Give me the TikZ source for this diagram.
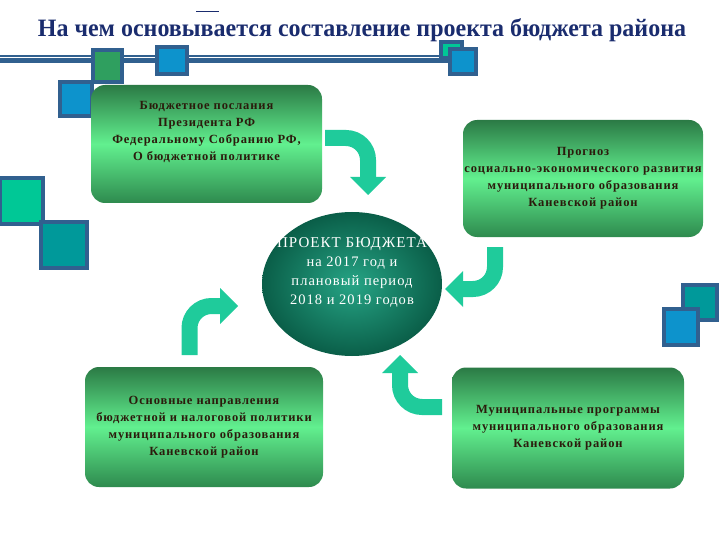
\documentclass[tikz,border=0pt]{standalone}
\usepackage{fontspec}
\setmainfont{Liberation Serif}
\newfontfamily\boxfont[LetterSpace=7]{Liberation Serif}
\newfontfamily\titlefont[FakeStretch=0.96]{Liberation Serif}
\usetikzlibrary{positioning,arrows.meta,shapes.geometric}

\definecolor{navy}{HTML}{1A2C6E}
\definecolor{steel}{HTML}{31608F}
\definecolor{sqgreen}{HTML}{2F9F5F}
\definecolor{sqblue}{HTML}{0D93CC}
\definecolor{sqteal}{HTML}{00C896}
\definecolor{sqdteal}{HTML}{00999A}
\definecolor{arrowteal}{HTML}{1FCB9B}
\definecolor{boxtop}{HTML}{2B7A45}
\definecolor{boxmid}{HTML}{62F08F}
\definecolor{boxbot}{HTML}{2E8A4E}
\definecolor{txtbrown}{HTML}{2B1B0C}
\definecolor{ringdark}{HTML}{0A5E48}
\definecolor{ringlight}{HTML}{26A485}

\begin{document}
\begin{tikzpicture}[x=1pt,y=-1pt,
        sq/.style={
            draw=steel,
            line width=3.5pt,
            fill=#1
        },
        box/.style={
            rounded corners=14pt,
            top color=boxtop,
            bottom color=boxbot,
            middle color=boxmid,
            inner sep=0pt
        },
        txt/.style={
            font=\boxfont\bfseries\fontsize{12.5}{17}\selectfont,
            text=txtbrown,
            align=center
        },
        turn/.style={
            draw=arrowteal,
            line width=16pt,
            rounded corners=22pt,
            -{Triangle[width=36pt,length=18pt,line width=0pt 0 0]}
        }
    ]
    \useasboundingbox (0,0) rectangle (720,540);

    \draw[navy,line width=1pt] (196,12) -- (219,12);

    \draw[steel,line width=8pt] (0,59) -- (462,59);
    \draw[white,line width=1pt] (0,57.5) -- (460,57.5);
    \draw[sq=sqgreen] (93,50) rectangle (122,82);
    \draw[sq=sqblue] (157,47) rectangle (187,74);
    \draw[sq=sqteal] (441,42) rectangle (462,58);
    \draw[sq=sqblue] (450,49) rectangle (476,74);
    \draw[sq=sqblue] (60,82) rectangle (92,116);
    \draw[sq=sqteal] (0,178) rectangle (43,224);
    \draw[sq=sqdteal] (41,222) rectangle (87,268);
    \draw[sq=sqdteal] (683,285) rectangle (717,320);
    \draw[sq=sqblue] (664,309) rectangle (698,345);

    \node[font=\titlefont\bfseries\fontsize{25}{28}\selectfont,text=navy] (title)
      at (362,30) {На чем основывается составление проекта бюджета района};

    \node[box,minimum width=231pt,minimum height=118pt] (budget)
      at (206.5,144) {};
    \node[txt,below=13pt of budget.north] (budgettext)
      {Бюджетное послания\\ Президента РФ\\ Федеральному Собранию РФ,\\ О бюджетной политике};
    \node[box,txt,minimum width=240pt,minimum height=117pt] (forecast)
      at (583,178.5) {Прогноз\\ социально-экономического развития\\ муниципального образования\\ Каневской район};
    \node[box,txt,minimum width=238pt,minimum height=120pt] (policy)
      at (204,427) {Основные направления\\ бюджетной и налоговой политики\\ муниципального образования\\ Каневской район};
    \node[box,txt,minimum width=232pt,minimum height=121pt] (programs)
      at (568,428) {Муниципальные программы\\ муниципального образования\\ Каневской район};

    \node[ellipse,inner color=ringlight,outer color=ringdark,
          minimum width=180pt,minimum height=144pt] (project) at (352,284) {};
    \node[text=white,align=center,font=\boxfont\fontsize{14.5}{19}\selectfont] (projecttext)
      at (352,272) {{\fontsize{15}{19}\selectfont ПРОЕКТ БЮДЖЕТА}\\ на 2017 год и\\ плановый период\\ 2018 и 2019 годов};

    \coordinate (t1s) at (325,138);
    \coordinate (t1e) at (368,195);
    \coordinate (t2s) at (495,247);
    \coordinate (t2e) at (445,289);
    \coordinate (t3s) at (189.5,355);
    \coordinate (t3e) at (238,306);
    \coordinate (t4s) at (442,407);
    \coordinate (t4e) at (400,355);

    \draw[turn] (t1s) -| (t1e);
    \draw[turn] (t2s) |- (t2e);
    \draw[turn] (t3s) |- (t3e);
    \draw[turn] (t4s) -| (t4e);
\end{tikzpicture}
\end{document}
